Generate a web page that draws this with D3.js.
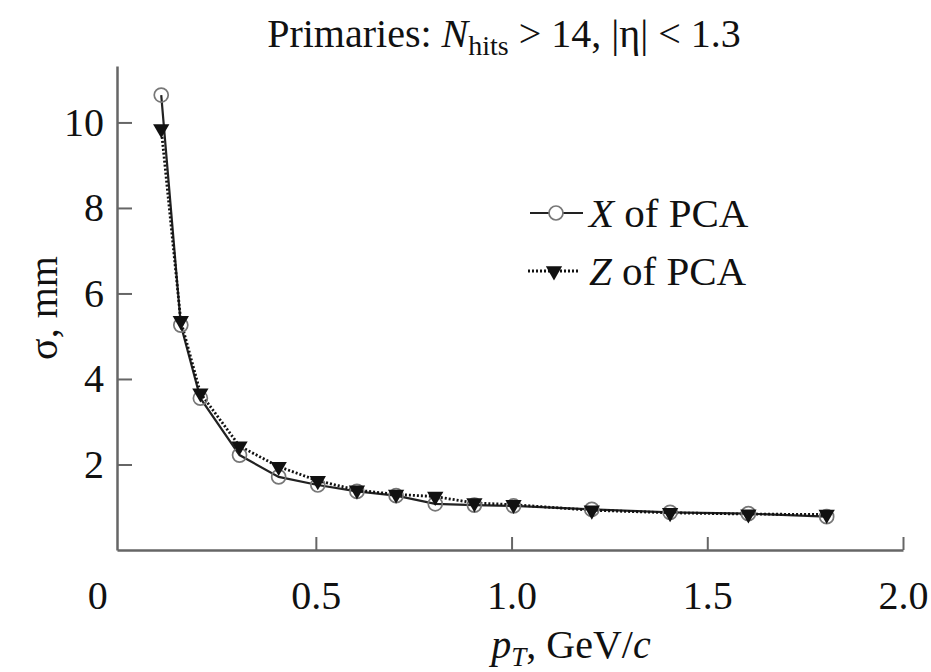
<!DOCTYPE html>
<html>
<head>
<meta charset="utf-8">
<script src="https://cdn.jsdelivr.net/npm/d3@7"></script>
<style>
  body { margin: 0; background: #fff; }
  svg text { font-family: "Liberation Serif", "DejaVu Serif", serif; }
</style>
</head>
<body>
<div id="chart"></div>
<script>
// p_T bin centres (GeV/c) and resolutions (mm)
const ptValues = [0.105, 0.155, 0.205, 0.305, 0.405, 0.505, 0.605, 0.705, 0.805, 0.905, 1.005, 1.205, 1.405, 1.605, 1.805];
const sigmaX   = [10.64, 5.26, 3.55, 2.22, 1.71, 1.52, 1.37, 1.27, 1.08, 1.05, 1.03, 0.95, 0.88, 0.85, 0.78];
const sigmaZ   = [9.85, 5.36, 3.67, 2.43, 1.95, 1.62, 1.40, 1.30, 1.25, 1.10, 1.06, 0.93, 0.87, 0.84, 0.83];
const xTicks = [0, 0.5, 1.0, 1.5, 2.0];
const yTicks = [2, 4, 6, 8, 10];

const width = 931, height = 672;
const axisColor = "#666";

const svg = d3.select("#chart").append("svg")
    .attr("width", width)
    .attr("height", height);

const x = d3.scaleLinear().domain([-0.008, 2.0]).range([117, 903]);
const y = d3.scaleLinear().domain([0, 11.32]).range([550, 66]);

// axes (ticks point inwards)
const xAxis = svg.append("g")
    .attr("transform", "translate(0,550)")
    .call(d3.axisBottom(x)
        .tickValues(xTicks)
        .tickSizeInner(-13)
        .tickSizeOuter(0)
        .tickPadding(31)
        .tickFormat(d => d === 0 ? "0" : d3.format(".1f")(d)));

const yAxis = svg.append("g")
    .attr("transform", "translate(117,0)")
    .call(d3.axisLeft(y)
        .tickValues(yTicks)
        .tickSizeInner(-15)
        .tickSizeOuter(0)
        .tickPadding(13));

[xAxis, yAxis].forEach(a => {
    a.attr("font-family", null);
    a.select(".domain").attr("stroke", axisColor).attr("stroke-width", 2.5);
    a.selectAll(".tick line").attr("stroke", axisColor).attr("stroke-width", 2);
    a.selectAll(".tick text")
        .attr("fill", "#111")
        .style("font-size", "40px");
});
// the "0" sits at the corner, no tick there
xAxis.selectAll(".tick").filter(d => d === 0).select("line").remove();
xAxis.selectAll(".tick").filter(d => d === 0).select("text").attr("x", -23);

// lines
const lineOf = vals => d3.line()
    .x((d, i) => x(ptValues[i]))
    .y(d => y(d))(vals);

svg.append("path")
    .attr("d", lineOf(sigmaX))
    .attr("fill", "none")
    .attr("stroke", "#222")
    .attr("stroke-width", 2.2);

svg.append("path")
    .attr("d", lineOf(sigmaZ))
    .attr("fill", "none")
    .attr("stroke", "#111")
    .attr("stroke-width", 2.8)
    .attr("stroke-dasharray", "2,2");

const tri = d3.symbol().type(d3.symbolTriangle).size(115);

svg.append("g").selectAll("circle")
    .data(sigmaX)
    .join("circle")
    .attr("cx", (d, i) => x(ptValues[i]))
    .attr("cy", d => y(d))
    .attr("r", 7)
    .attr("fill", "none")
    .attr("stroke", "#777")
    .attr("stroke-width", 1.7);

svg.append("g").selectAll("path")
    .data(sigmaZ)
    .join("path")
    .attr("d", tri)
    .attr("transform", (d, i) => `translate(${x(ptValues[i])},${y(d)}) rotate(180)`)
    .attr("fill", "#111");

// legend
const legend = svg.append("g");
legend.append("line")
    .attr("x1", 530).attr("x2", 583).attr("y1", 213).attr("y2", 213)
    .attr("stroke", "#222").attr("stroke-width", 2.2);
legend.append("circle")
    .attr("cx", 556).attr("cy", 213).attr("r", 7)
    .attr("fill", "#fff").attr("stroke", "#777").attr("stroke-width", 1.7);
legend.append("line")
    .attr("x1", 528).attr("x2", 580).attr("y1", 271).attr("y2", 271)
    .attr("stroke", "#111").attr("stroke-width", 2.8).attr("stroke-dasharray", "2,2");
legend.append("path")
    .attr("d", tri)
    .attr("transform", "translate(554,271) rotate(180)")
    .attr("fill", "#111");

const t1 = legend.append("text").attr("x", 589).attr("y", 227).style("font-size", "41px").attr("fill", "#111");
t1.append("tspan").style("font-style", "italic").text("X");
t1.append("tspan").text(" of PCA");
const t2 = legend.append("text").attr("x", 589).attr("y", 285).style("font-size", "41px").attr("fill", "#111");
t2.append("tspan").style("font-style", "italic").text("Z");
t2.append("tspan").text(" of PCA");

// title
const title = svg.append("text")
    .attr("x", 504).attr("y", 47)
    .attr("text-anchor", "middle")
    .style("font-size", "40px")
    .attr("fill", "#111");
title.append("tspan").text("Primaries: ");
title.append("tspan").style("font-style", "italic").text("N");
title.append("tspan").attr("dy", 8).style("font-size", "28px").text("hits");
title.append("tspan").attr("dy", -8).text(" > 14, |η| < 1.3");

// axis titles
svg.append("text")
    .attr("transform", "translate(57,308) rotate(-90)")
    .attr("text-anchor", "middle")
    .style("font-size", "40px")
    .attr("fill", "#111")
    .text("σ, mm");

const xLabel = svg.append("text")
    .attr("x", 571).attr("y", 658)
    .attr("text-anchor", "middle")
    .style("font-size", "40px")
    .attr("fill", "#111");
xLabel.append("tspan").style("font-style", "italic").text("p");
xLabel.append("tspan").attr("dy", 8).style("font-size", "27px").style("font-style", "italic").text("T");
xLabel.append("tspan").attr("dy", -8).text(", GeV/");
xLabel.append("tspan").style("font-style", "italic").text("c");
</script>
</body>
</html>
